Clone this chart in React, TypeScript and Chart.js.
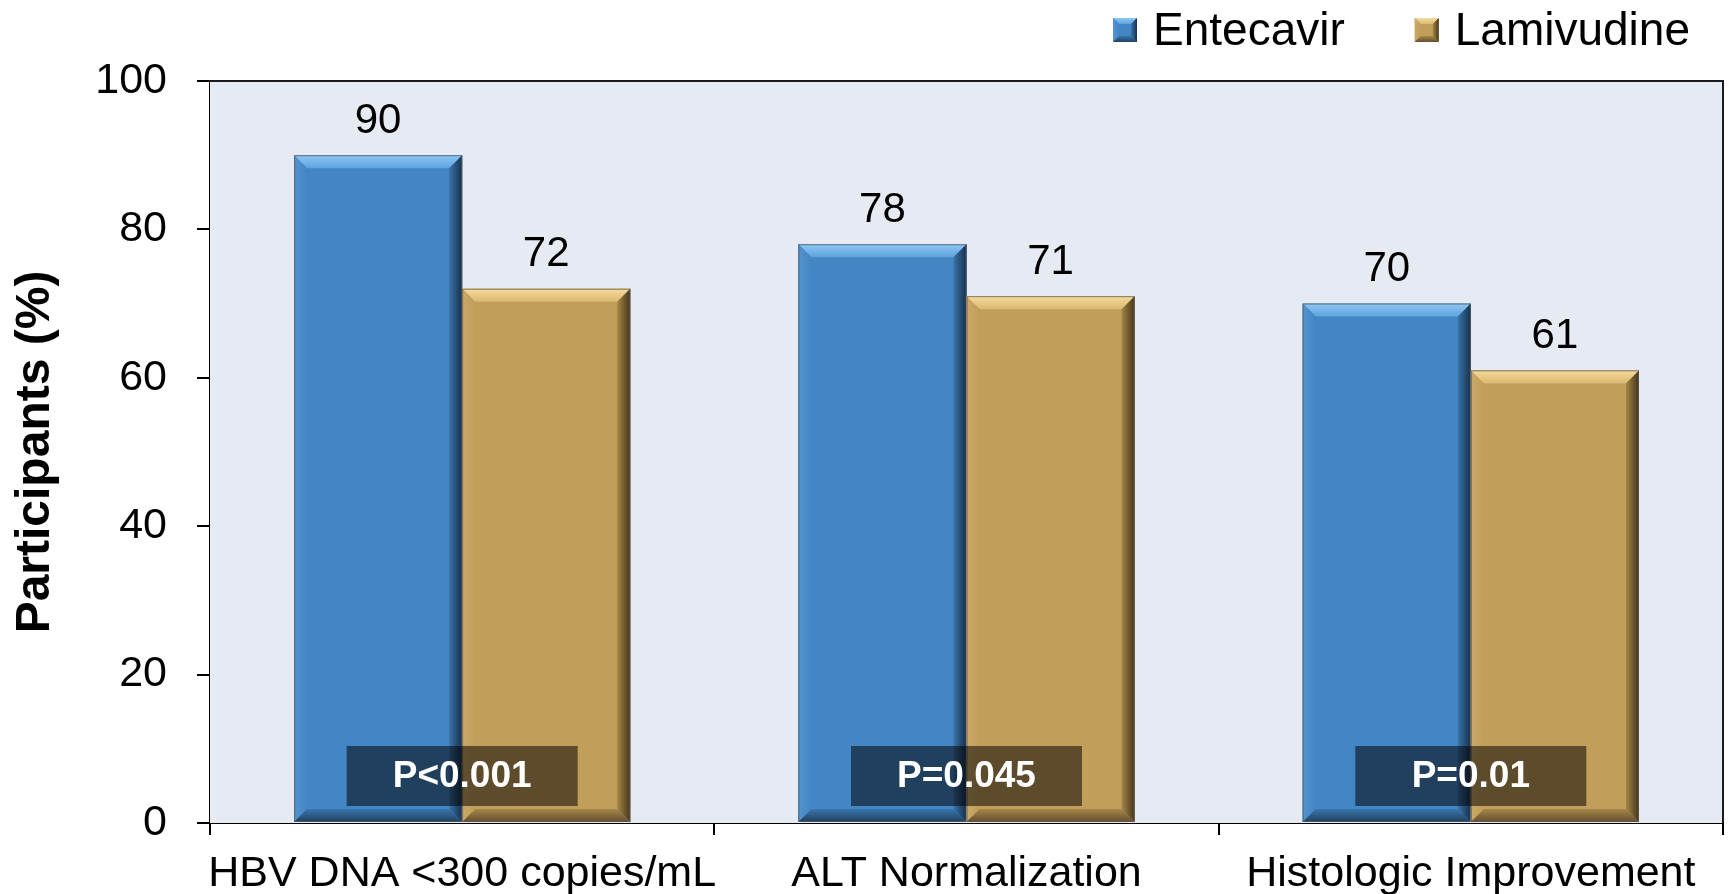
import React, { useEffect, useRef } from "react";
import { Chart, registerables } from "chart.js";

Chart.register(...registerables);

// ---- data ----
const categories = ["HBV DNA <300 copies/mL", "ALT Normalization", "Histologic Improvement"];
const seriesNames = ["Entecavir", "Lamivudine"];
const entecavirValues = [90, 78, 70];
const lamivudineValues = [72, 71, 61];
const pValueLabels = ["P<0.001", "P=0.045", "P=0.01"];
const yAxisTitle = "Participants (%)";
const yMin = 0;
const yMax = 100;
const yStep = 20;

// ---- styles ----
const FONT = "'Liberation Sans', Arial, Helvetica, sans-serif";
const W = 1729;
const H = 894;

type Pal = {
  face: string;
  top0: string; top1: string;
  left0: string; left1: string;
  right0: string; right1: string;
  bot0: string; bot1: string;
};

const bluePal: Pal = {
  face: "#4386C4",
  top0: "#8CC8F8", top1: "#5FA2DC",
  left0: "#5194D0", left1: "#4386C4",
  right0: "#3A73A8", right1: "#17304C",
  bot0: "#3A76AD", bot1: "#21405F",
};
const goldPal: Pal = {
  face: "#C29E5B",
  top0: "#F7DB9C", top1: "#DAB871",
  left0: "#CBA866", left1: "#C29E5B",
  right0: "#A58546", right1: "#45361C",
  bot0: "#A6864A", bot1: "#63502D",
};
const palettes = [bluePal, goldPal];

function poly(ctx: CanvasRenderingContext2D, pts: number[][], fill: CanvasGradient | string) {
  ctx.beginPath();
  ctx.moveTo(pts[0][0], pts[0][1]);
  for (let i = 1; i < pts.length; i++) ctx.lineTo(pts[i][0], pts[i][1]);
  ctx.closePath();
  ctx.fillStyle = fill;
  ctx.fill();
}

function bevelRect(
  ctx: CanvasRenderingContext2D,
  l: number, t: number, r: number, b: number,
  pal: Pal, bz: number, outline: boolean
) {
  ctx.save();
  ctx.fillStyle = pal.face;
  ctx.fillRect(l, t, r - l, b - t);
  let g = ctx.createLinearGradient(0, t, 0, t + bz);
  g.addColorStop(0, pal.top0);
  g.addColorStop(1, pal.top1);
  poly(ctx, [[l, t], [r, t], [r - bz, t + bz], [l + bz, t + bz]], g);
  g = ctx.createLinearGradient(l, 0, l + bz, 0);
  g.addColorStop(0, pal.left0);
  g.addColorStop(1, pal.left1);
  poly(ctx, [[l, t], [l + bz, t + bz], [l + bz, b - bz], [l, b]], g);
  g = ctx.createLinearGradient(r - bz, 0, r, 0);
  g.addColorStop(0, pal.right0);
  g.addColorStop(1, pal.right1);
  poly(ctx, [[r, t], [r, b], [r - bz, b - bz], [r - bz, t + bz]], g);
  g = ctx.createLinearGradient(0, b - bz, 0, b);
  g.addColorStop(0, pal.bot0);
  g.addColorStop(1, pal.bot1);
  poly(ctx, [[l, b], [l + bz, b - bz], [r - bz, b - bz], [r, b]], g);
  if (outline) {
    ctx.strokeStyle = "rgba(90,90,90,0.75)";
    ctx.lineWidth = 1;
    ctx.strokeRect(l + 0.5, t + 0.5, r - l - 1, b - t - 1);
  }
  ctx.restore();
}

const decorPlugin = {
  id: "decor",
  beforeDatasetsDraw(chart: any) {
    const { ctx, chartArea } = chart;
    ctx.save();
    ctx.fillStyle = "#E6EAF2";
    ctx.fillRect(chartArea.left, chartArea.top, chartArea.right - chartArea.left, chartArea.bottom - chartArea.top);
    ctx.restore();
  },
  afterDatasetsDraw(chart: any) {
    const { ctx, chartArea } = chart;
    const yScale = chart.scales.y;
    const xScale = chart.scales.x;
    // bevel bars
    chart.data.datasets.forEach((ds: any, di: number) => {
      const meta = chart.getDatasetMeta(di);
      meta.data.forEach((bar: any) => {
        const p = bar.getProps(["x", "y", "base", "width"], true);
        const l = p.x - p.width / 2;
        const r = p.x + p.width / 2;
        bevelRect(ctx, l, p.y, r, p.base, palettes[di], 13, true);
      });
    });
    // plot border (top, right)
    ctx.save();
    ctx.strokeStyle = "#1a1a1a";
    ctx.lineWidth = 2;
    ctx.beginPath();
    ctx.moveTo(chartArea.left, chartArea.top);
    ctx.lineTo(chartArea.right, chartArea.top);
    ctx.lineTo(chartArea.right, chartArea.bottom);
    ctx.stroke();
    ctx.restore();
    // value labels
    ctx.save();
    ctx.fillStyle = "#000";
    ctx.font = `42px ${FONT}`;
    ctx.textAlign = "center";
    ctx.textBaseline = "middle";
    chart.data.datasets.forEach((ds: any, di: number) => {
      const meta = chart.getDatasetMeta(di);
      meta.data.forEach((bar: any, i: number) => {
        ctx.fillText(String(ds.data[i]), bar.x, bar.y - 34);
      });
    });
    ctx.restore();
    // p-value boxes
    const zeroY = yScale.getPixelForValue(0);
    ctx.save();
    pValueLabels.forEach((txt, i) => {
      const cx = xScale.getPixelForValue(i);
      const bw = 231;
      const bh = 60;
      const bottom = zeroY - 17;
      ctx.fillStyle = "rgba(0,0,0,0.52)";
      ctx.fillRect(cx - bw / 2, bottom - bh, bw, bh);
      ctx.fillStyle = "#fff";
      ctx.font = `bold 37px ${FONT}`;
      ctx.textAlign = "center";
      ctx.textBaseline = "middle";
      ctx.fillText(txt, cx, bottom - bh / 2 + 1);
    });
    ctx.restore();
  },
  afterDraw(chart: any) {
    const { ctx } = chart;
    // legend
    ctx.save();
    ctx.font = `46px ${FONT}`;
    ctx.textBaseline = "middle";
    ctx.textAlign = "left";
    let x = 1113;
    const cy = 30;
    chart.data.datasets.forEach((ds: any, di: number) => {
      bevelRect(ctx, x, cy - 12, x + 24, cy + 12, palettes[di], 6, false);
      ctx.fillStyle = "#000";
      ctx.fillText(ds.label, x + 40, cy + 2);
      x += 40 + ctx.measureText(ds.label).width + 70;
    });
    ctx.restore();
  },
};

export default function App() {
  const ref = useRef<HTMLCanvasElement | null>(null);

  useEffect(() => {
    document.body.style.margin = "0";
    const canvas = ref.current;
    if (!canvas) return;
    const chart = new Chart(canvas, {
      type: "bar",
      data: {
        labels: categories,
        datasets: [
          {
            label: seriesNames[0],
            data: entecavirValues,
            backgroundColor: bluePal.face,
            borderWidth: 0,
            barPercentage: 1,
            categoryPercentage: 2 / 3,
          },
          {
            label: seriesNames[1],
            data: lamivudineValues,
            backgroundColor: goldPal.face,
            borderWidth: 0,
            barPercentage: 1,
            categoryPercentage: 2 / 3,
          },
        ],
      },
      options: {
        responsive: false,
        animation: false,
        devicePixelRatio: 1,
        layout: { padding: { top: 81, right: 6, left: 0, bottom: 0 } },
        plugins: {
          legend: { display: false },
          tooltip: { enabled: false },
          title: { display: false },
        },
        scales: {
          x: {
            type: "category",
            offset: true,
            afterFit: (s: any) => {
              s.height = 71;
            },
            grid: {
              offset: true,
              drawOnChartArea: false,
              drawTicks: true,
              tickLength: 12,
              color: "#000",
              lineWidth: 2,
            },
            border: { display: true, color: "#000", width: 2 },
            ticks: {
              color: "#000",
              font: { family: FONT, size: 43 },
              padding: 13,
              maxRotation: 0,
              autoSkip: false,
            },
          },
          y: {
            min: yMin,
            max: yMax,
            afterFit: (s: any) => {
              s.width = 210;
            },
            grid: {
              drawOnChartArea: false,
              drawTicks: true,
              tickLength: 13,
              color: "#000",
              lineWidth: 2,
            },
            border: { display: true, color: "#000", width: 2 },
            ticks: {
              stepSize: yStep,
              color: "#000",
              font: { family: FONT, size: 43 },
              padding: 30,
            },
            title: {
              display: true,
              text: yAxisTitle,
              color: "#000",
              font: { family: FONT, size: 48, weight: "bold" },
              padding: { top: 7, bottom: 0 },
            },
          },
        },
      },
      plugins: [decorPlugin],
    });
    return () => chart.destroy();
  }, []);

  return (
    <div style={{ width: W, height: H, margin: 0, padding: 0, background: "#fff" }}>
      <canvas ref={ref} width={W} height={H} style={{ display: "block" }} />
    </div>
  );
}
